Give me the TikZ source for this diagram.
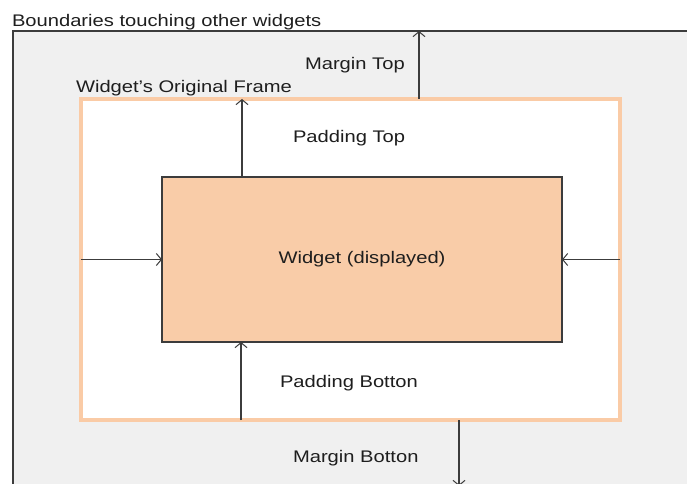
\documentclass[tikz,border=0pt]{standalone}
\usepackage{fontspec}
\setmainfont{Liberation Sans}[FakeStretch=1.2]
\usetikzlibrary{arrows.meta}
\definecolor{bggray}{RGB}{240,240,240}
\definecolor{frameor}{RGB}{250,203,166}
\definecolor{widgetor}{RGB}{249,204,168}
\definecolor{linegray}{RGB}{60,60,60}
\definecolor{txt}{RGB}{30,30,30}
\begin{document}
\begin{tikzpicture}[x=1bp,y=-1bp,
  lbl/.style={inner sep=0pt,outer sep=0pt,anchor=base west,text=txt,font=\fontsize{16.8bp}{20bp}\selectfont},
  arr/.style={draw=linegray,line width=1.3bp,-{Straight Barb[length=5bp,width=12bp,line width=1bp]}},
  framebox/.style={draw=frameor,fill=white,line width=4bp,inner sep=0pt,outer sep=0pt,minimum width=539bp,minimum height=321bp},
  widgetbox/.style={draw=linegray,fill=widgetor,line width=1.5bp,inner sep=0pt,outer sep=0pt,minimum width=400bp,minimum height=165bp,text=txt,font=\fontsize{16.8bp}{20bp}\selectfont}]
\useasboundingbox (0,0) rectangle (687,484);
% outer boundary
\coordinate (ob) at (13,484);
\coordinate (otl) at (13,31);
\coordinate (otr) at (687,31);
\fill[bggray] (otl) rectangle (687,484);
\draw[linegray,line width=1.5bp] (ob) -- (otl) -- (otr);
% frames
\node[framebox] (frame) at (350.5,259.5) {};
\node[widgetbox] (widget) at (362,259.5) {Widget (displayed)};
% arrows
\coordinate (mt) at (419,31);
\draw[arr] (frame.north -| mt) -- (mt);
\coordinate (ptx) at (242,0);
\draw[arr] (widget.north -| ptx) -- (frame.north -| ptx);
\draw[arr] (frame.west) -- (widget.west);
\draw[arr] (frame.east) -- (widget.east);
\coordinate (pbx) at (241,0);
\draw[arr] (frame.south -| pbx) -- (widget.south -| pbx);
\coordinate (mb) at (459,486);
\draw[arr] (frame.south -| mb) -- (mb);
% labels
\node[lbl] (tb) at (12,27) {Boundaries touching other widgets};
\node[lbl] (tf) at (76,93) {Widget’s Original Frame};
\node[lbl] (tmt) at (305,70) {Margin Top};
\node[lbl] (tpt) at (293,143) {Padding Top};
\node[lbl] (tpb) at (280,387) {Padding Botton};
\node[lbl] (tmb) at (293,462) {Margin Botton};
\end{tikzpicture}
\end{document}
